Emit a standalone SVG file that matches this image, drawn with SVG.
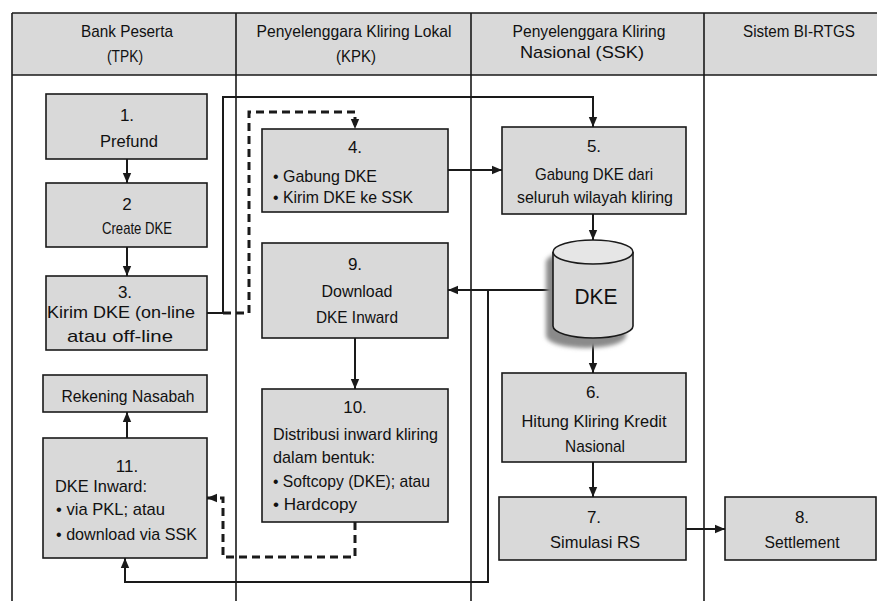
<svg xmlns="http://www.w3.org/2000/svg" width="877" height="601" viewBox="0 0 877 601">
<style>
text{font-family:"Liberation Sans",Arial,sans-serif;font-size:17px;fill:#111111}
.c{text-anchor:middle}
.box{fill:#d9d9d9;stroke:#1a1a1a;stroke-width:1.6}
.grid{stroke:#1a1a1a;stroke-width:1.6;fill:none}
.ln{stroke:#1a1a1a;stroke-width:2;fill:none}
.ds{stroke:#1a1a1a;stroke-width:3;fill:none;stroke-dasharray:8 5}
</style>
<defs>
<marker id="ah" markerUnits="userSpaceOnUse" markerWidth="10" markerHeight="10" viewBox="0 0 10 10" refX="10" refY="5" orient="auto">
<path d="M0,0.8 L10,5 L0,9.2 Z" fill="#1a1a1a"/>
</marker>
<filter id="blur" x="-20%" y="-20%" width="140%" height="140%"><feGaussianBlur stdDeviation="2"/></filter>
</defs>
<rect width="877" height="601" fill="#ffffff"/>
<g id="table">
<rect x="12" y="13" width="870" height="62" fill="#d9d9d9"/>
<path class="grid" d="M12,13 H880 M12,75 H880 M12,13 V601 M236,13 V601 M471,13 V601 M704,13 V601"/>
<text class="c" x="127" y="37" textLength="92" lengthAdjust="spacingAndGlyphs">Bank Peserta</text>
<text class="c" x="125" y="62" textLength="36" lengthAdjust="spacingAndGlyphs">(TPK)</text>
<text class="c" x="354" y="37" textLength="195" lengthAdjust="spacingAndGlyphs">Penyelenggara Kliring Lokal</text>
<text class="c" x="356" y="62" textLength="40" lengthAdjust="spacingAndGlyphs">(KPK)</text>
<text class="c" x="589" y="37" textLength="153" lengthAdjust="spacingAndGlyphs">Penyelenggara Kliring</text>
<text class="c" x="582" y="58" textLength="124" lengthAdjust="spacingAndGlyphs">Nasional (SSK)</text>
<text class="c" x="799" y="37" textLength="112" lengthAdjust="spacingAndGlyphs">Sistem BI-RTGS</text>
</g>
<g id="connectors">
<path class="ln" d="M127,159 V183" marker-end="url(#ah)"/>
<path class="ln" d="M127,247 V276" marker-end="url(#ah)"/>
<path class="ln" d="M207,313 H223 V97 H593 V127" marker-end="url(#ah)"/>
<path class="ds" d="M223,313 H249 V112 H355 V129" marker-end="url(#ah)"/>
<path class="ln" d="M448,170 H502" marker-end="url(#ah)"/>
<path class="ln" d="M593,214 V240" marker-end="url(#ah)"/>
<path class="ln" d="M553,290 H448" marker-end="url(#ah)"/>
<path class="ln" d="M488,290 V582 H125 V558" marker-end="url(#ah)"/>
<path class="ln" d="M593,338 V373" marker-end="url(#ah)"/>
<path class="ln" d="M593,462 V497" marker-end="url(#ah)"/>
<path class="ln" d="M686,529 H725" marker-end="url(#ah)"/>
<path class="ln" d="M355,338 V389" marker-end="url(#ah)"/>
<path class="ds" d="M355,522 V557 H223 V498 H207" marker-end="url(#ah)"/>
<path class="ln" d="M127,438 V412" marker-end="url(#ah)"/>
</g>
<g id="n1">
<rect class="box" x="46" y="94" width="161" height="65"/>
<text class="c" x="127" y="121">1.</text>
<text class="c" x="129" y="147" textLength="58" lengthAdjust="spacingAndGlyphs">Prefund</text>
</g>
<g id="n2">
<rect class="box" x="46" y="183" width="161" height="64"/>
<text class="c" x="127" y="210">2</text>
<text class="c" x="137" y="234" textLength="70" lengthAdjust="spacingAndGlyphs">Create DKE</text>
</g>
<g id="n3">
<rect class="box" x="46" y="276" width="161" height="74"/>
<text class="c" x="125" y="298">3.</text>
<text class="c" x="121" y="318" textLength="148" lengthAdjust="spacingAndGlyphs">Kirim DKE (on-line</text>
<text class="c" x="120" y="342" textLength="106" lengthAdjust="spacingAndGlyphs">atau off-line</text>
</g>
<g id="n4">
<rect class="box" x="262" y="129" width="186" height="83"/>
<text class="c" x="355" y="153">4.</text>
<text x="273" y="182" textLength="104" lengthAdjust="spacingAndGlyphs">• Gabung DKE</text>
<text x="273" y="203" textLength="140" lengthAdjust="spacingAndGlyphs">• Kirim DKE ke SSK</text>
</g>
<g id="n5">
<rect class="box" x="502" y="127" width="184" height="87"/>
<text class="c" x="594" y="152">5.</text>
<text class="c" x="594" y="180" textLength="118" lengthAdjust="spacingAndGlyphs">Gabung DKE dari</text>
<text class="c" x="595" y="203" textLength="156" lengthAdjust="spacingAndGlyphs">seluruh wilayah kliring</text>
</g>
<g id="dke">
<path d="M546,262 A40,12 0 0 1 626,262 V336 A40,12 0 0 1 546,336 Z" fill="#8a8a8a" filter="url(#blur)"/>
<path d="M553,252 V326 A40,12 0 0 0 633,326 V252" fill="#d9d9d9" stroke="#1a1a1a" stroke-width="1.6"/>
<ellipse cx="593" cy="252" rx="40" ry="12" fill="#e6e6e6" stroke="#1a1a1a" stroke-width="1.6"/>
<text class="c" x="596" y="304" style="font-size:22px" textLength="43" lengthAdjust="spacingAndGlyphs">DKE</text>
</g>
<g id="n9">
<rect class="box" x="262" y="243" width="186" height="95"/>
<text class="c" x="355" y="270">9.</text>
<text class="c" x="357" y="297" textLength="71" lengthAdjust="spacingAndGlyphs">Download</text>
<text class="c" x="357" y="323" textLength="82" lengthAdjust="spacingAndGlyphs">DKE Inward</text>
</g>
<g id="n10">
<rect class="box" x="262" y="389" width="186" height="133"/>
<text class="c" x="355" y="413">10.</text>
<text x="273" y="440" textLength="165" lengthAdjust="spacingAndGlyphs">Distribusi inward kliring</text>
<text x="273" y="463" textLength="102" lengthAdjust="spacingAndGlyphs">dalam bentuk:</text>
<text x="273" y="487" textLength="157" lengthAdjust="spacingAndGlyphs">• Softcopy (DKE); atau</text>
<text x="273" y="510" textLength="84" lengthAdjust="spacingAndGlyphs">• Hardcopy</text>
</g>
<g id="n6">
<rect class="box" x="502" y="373" width="184" height="89"/>
<text class="c" x="593" y="398">6.</text>
<text class="c" x="594" y="427" textLength="145" lengthAdjust="spacingAndGlyphs">Hitung Kliring Kredit</text>
<text class="c" x="595" y="452" textLength="60" lengthAdjust="spacingAndGlyphs">Nasional</text>
</g>
<g id="n7">
<rect class="box" x="499" y="497" width="187" height="63"/>
<text class="c" x="594" y="523">7.</text>
<text class="c" x="595" y="548" textLength="90" lengthAdjust="spacingAndGlyphs">Simulasi RS</text>
</g>
<g id="n8">
<rect class="box" x="725" y="497" width="151" height="63"/>
<text class="c" x="802" y="523">8.</text>
<text class="c" x="802" y="548" textLength="75" lengthAdjust="spacingAndGlyphs">Settlement</text>
</g>
<g id="nRek">
<rect class="box" x="43" y="375" width="164" height="37"/>
<text class="c" x="128" y="402" textLength="133" lengthAdjust="spacingAndGlyphs">Rekening Nasabah</text>
</g>
<g id="n11">
<rect class="box" x="43" y="438" width="164" height="120"/>
<text class="c" x="127" y="472">11.</text>
<text x="55" y="492" textLength="92" lengthAdjust="spacingAndGlyphs">DKE Inward:</text>
<text x="56" y="515" textLength="109" lengthAdjust="spacingAndGlyphs">• via PKL; atau</text>
<text x="56" y="540" textLength="141" lengthAdjust="spacingAndGlyphs">• download via SSK</text>
</g>
</svg>
